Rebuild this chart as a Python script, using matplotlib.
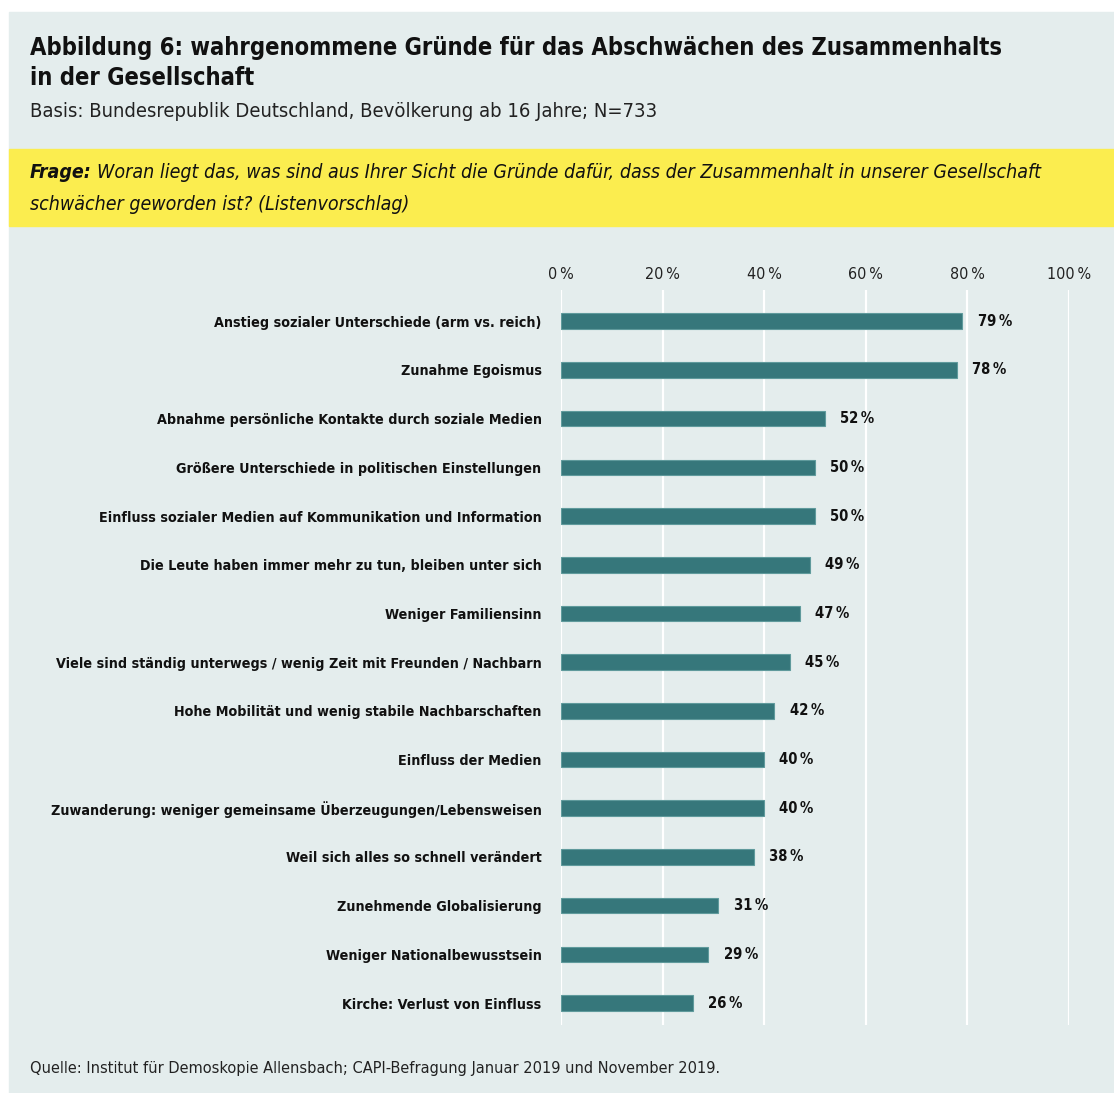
import matplotlib.pyplot as plt
import numpy as np

categories = [
    "Anstieg sozialer Unterschiede (arm vs. reich)",
    "Zunahme Egoismus",
    "Abnahme persönliche Kontakte durch soziale Medien",
    "Größere Unterschiede in politischen Einstellungen",
    "Einfluss sozialer Medien auf Kommunikation und Information",
    "Die Leute haben immer mehr zu tun, bleiben unter sich",
    "Weniger Familiensinn",
    "Viele sind ständig unterwegs / wenig Zeit mit Freunden / Nachbarn",
    "Hohe Mobilität und wenig stabile Nachbarschaften",
    "Einfluss der Medien",
    "Zuwanderung: weniger gemeinsame Überzeugungen/Lebensweisen",
    "Weil sich alles so schnell verändert",
    "Zunehmende Globalisierung",
    "Weniger Nationalbewusstsein",
    "Kirche: Verlust von Einfluss",
]
values = [79, 78, 52, 50, 50, 49, 47, 45, 42, 40, 40, 38, 31, 29, 26]
ticks = [0, 20, 40, 60, 80, 100]

W, H = 1114, 1093
BG = "#e4eded"
YELLOW = "#fbed4f"
BAR = "#36777b"

plt.rcParams["font.family"] = ["DejaVu Sans"]
plt.rcParams["font.stretch"] = "condensed"

fig = plt.figure(figsize=(W / 100, H / 100), dpi=100)
fig.patch.set_facecolor("white")


def fx(x):
    return x / W


def fy(y):
    return 1 - y / H


# panel and yellow band
fig.add_artist(plt.Rectangle((fx(9), fy(1093)), fx(1114 - 9), 1093 / H - 12 / H,
                             transform=fig.transFigure, color=BG, zorder=0))
fig.add_artist(plt.Rectangle((fx(9), fy(226)), fx(1114 - 9), 77 / H,
                             transform=fig.transFigure, color=YELLOW, zorder=0))

fig.text(fx(30), fy(48), "Abbildung 6: wahrgenommene Gründe für das Abschwächen des Zusammenhalts",
         fontsize=17, fontweight="bold", va="center", ha="left", color="#111111")
fig.text(fx(30), fy(78), "in der Gesellschaft",
         fontsize=17, fontweight="bold", va="center", ha="left", color="#111111")
fig.text(fx(30), fy(111), "Basis: Bundesrepublik Deutschland, Bevölkerung ab 16 Jahre; N=733",
         fontsize=14.5, va="center", ha="left", color="#222222")

frage = fig.text(fx(30), fy(173), "Frage:", fontsize=14, fontweight="bold", style="italic",
                 va="center", ha="left", color="#111111")
fig.canvas.draw()
fw = frage.get_window_extent().x1
fig.text((fw + 5) / W, fy(173),
         "Woran liegt das, was sind aus Ihrer Sicht die Gründe dafür, dass der Zusammenhalt in unserer Gesellschaft",
         fontsize=14, style="italic", va="center", ha="left", color="#111111")
fig.text(fx(30), fy(205), "schwächer geworden ist? (Listenvorschlag)",
         fontsize=14, style="italic", va="center", ha="left", color="#111111")

fig.text(fx(30), fy(1069), "Quelle: Institut für Demoskopie Allensbach; CAPI-Befragung Januar 2019 und November 2019.",
         fontsize=11.7, va="center", ha="left", color="#222222")

ax = fig.add_axes([fx(561), fy(1025), fx(1069 - 561), (1025 - 290) / H])
ax.set_facecolor("none")
y = np.arange(len(categories))
ax.barh(y, values, height=0.32, color=BAR, edgecolor="#5f9a9c", linewidth=0.8, zorder=3)
ax.set_xlim(0, 100)
ax.set_ylim(len(categories) - 1 + 0.45, -0.64)

for xv in ticks:
    ax.axvline(xv, color="white", linewidth=1.6, zorder=1)

ax.set_xticks(ticks)
ax.set_xticklabels([f"{t}\u2009%" for t in ticks], fontsize=11.5, color="#222222")
ax.xaxis.tick_top()
ax.tick_params(axis="x", length=0, pad=6)
ax.set_yticks(y)
ax.set_yticklabels(categories, fontsize=10.3, fontweight="bold", color="#111111")
ax.tick_params(axis="y", length=0, pad=14)
for s in ax.spines.values():
    s.set_visible(False)

for yi, v in zip(y, values):
    ax.text(v + 3, yi, f"{v}\u2009%", va="center", ha="left", fontsize=10.6,
            fontweight="bold", color="#111111")

fig.savefig("out.png", dpi=100, facecolor="white")
